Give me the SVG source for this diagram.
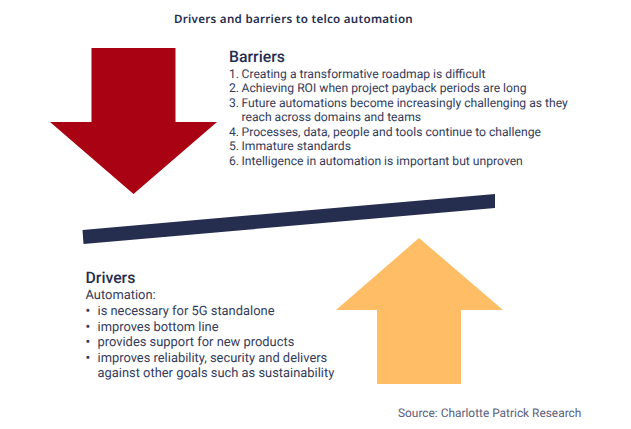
<svg xmlns="http://www.w3.org/2000/svg" width="631" height="429" viewBox="0 0 631 429">
<style>
text{font-family:Roboto,"Liberation Sans",sans-serif;fill:#333b5a;font-size:12.15px;text-rendering:geometricPrecision}
.h{font-size:15.8px;font-weight:500;fill:#262e4f}
.d{font-size:12.9px}
.b{font-size:12.9px;font-weight:700}
.t{font-family:"Noto Sans","DejaVu Sans",sans-serif;font-weight:600;font-size:11.6px;letter-spacing:.27px;fill:#262e4f}
.s{fill:#5a607a;font-size:11.9px}
</style>
<rect width="631" height="429" fill="#fff"/>
<text id="title" class="t" x="174" y="23">Drivers and barriers to telco automation</text>
<g id="barriers-arrow"><polygon points="91.5,48 175.5,48 175.5,122 217,122 133.5,194 50,122 91.5,122" fill="#a80213"/></g>
<g id="lever"><polygon points="82.5,230 495,194 495,208 83.5,244" fill="#262e4f"/></g>
<g id="drivers-arrow"><polygon points="419,238 503,310 461,310 461,384 377,384 377,310 336,310" fill="#ffbd66"/></g>
<g id="barriers">
<text class="h" x="229" y="62">Barriers</text>
<text x="229" y="77.500">1.</text><text x="241.500" y="77.500">Creating a transformative roadmap is difficult</text>
<text x="229" y="92">2.</text><text x="241.500" y="92">Achieving ROI when project payback periods are long</text>
<text x="229" y="106.500">3.</text><text x="241.500" y="106.500">Future automations become increasingly challenging as they</text>
<text x="241.500" y="121">reach across domains and teams</text>
<text x="229" y="136">4.</text><text x="241.500" y="136">Processes, data, people and tools continue to challenge</text>
<text x="229" y="150">5.</text><text x="241.500" y="150">Immature standards</text>
<text x="229" y="164.500">6.</text><text x="241.500" y="164.500">Intelligence in automation is important but unproven</text>
</g>
<g id="drivers">
<text class="h" x="85.500" y="283">Drivers</text>
<text class="d" x="85.500" y="299">Automation:</text>
<text class="b" x="85.500" y="315">•</text><text class="d" x="97.500" y="315">is necessary for 5G standalone</text>
<text class="b" x="85.500" y="330.500">•</text><text class="d" x="97.500" y="330.500">improves bottom line</text>
<text class="b" x="85.500" y="346">•</text><text class="d" x="97.500" y="346">provides support for new products</text>
<text class="b" x="85.500" y="361.500">•</text><text class="d" x="97.500" y="361.500">improves reliability, security and delivers</text>
<text class="d" x="97.500" y="377">against other goals such as sustainability</text>
</g>
<text id="source" class="s" x="398" y="417">Source: Charlotte Patrick Research</text>
</svg>
